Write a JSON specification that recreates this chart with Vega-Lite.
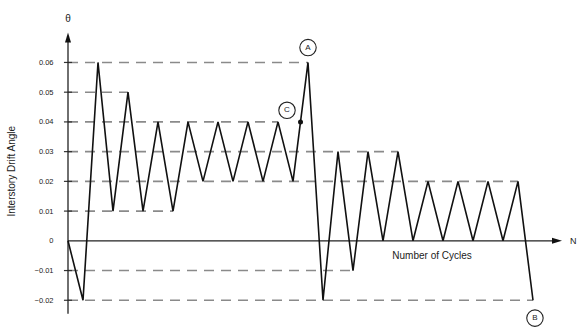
{
  "$schema": "https://vega.github.io/schema/vega-lite/v6.json",
  "width": 500,
  "height": 327,
  "autosize": {"type": "none"},
  "padding": {"left": 68, "top": 3, "right": 9, "bottom": 0},
  "background": "white",
  "config": {"view": {"stroke": null}, "font": "Liberation Sans"},
  "datasets": {
    "drift": [
      {"x": 0, "y": 0}, {"x": 1, "y": -0.02}, {"x": 2, "y": 0.06}, {"x": 3, "y": 0.01},
      {"x": 4, "y": 0.05}, {"x": 5, "y": 0.01}, {"x": 6, "y": 0.04}, {"x": 7, "y": 0.01},
      {"x": 8, "y": 0.04}, {"x": 9, "y": 0.02}, {"x": 10, "y": 0.04}, {"x": 11, "y": 0.02},
      {"x": 12, "y": 0.04}, {"x": 13, "y": 0.02}, {"x": 14, "y": 0.04}, {"x": 15, "y": 0.02},
      {"x": 16, "y": 0.06}, {"x": 17, "y": -0.02}, {"x": 18, "y": 0.03}, {"x": 19, "y": -0.01},
      {"x": 20, "y": 0.03}, {"x": 21, "y": 0}, {"x": 22, "y": 0.03}, {"x": 23, "y": 0},
      {"x": 24, "y": 0.02}, {"x": 25, "y": 0}, {"x": 26, "y": 0.02}, {"x": 27, "y": 0},
      {"x": 28, "y": 0.02}, {"x": 29, "y": 0}, {"x": 30, "y": 0.02}, {"x": 31, "y": -0.02}
    ],
    "levels": [
      {"x": 0, "x2": 16, "y": 0.06}, {"x": 0, "x2": 4, "y": 0.05}, {"x": 0, "x2": 14, "y": 0.04},
      {"x": 0, "x2": 22, "y": 0.03}, {"x": 0, "x2": 30, "y": 0.02}, {"x": 0, "x2": 7, "y": 0.01},
      {"x": 0, "x2": 19, "y": -0.01}, {"x": 0, "x2": 31, "y": -0.02}
    ],
    "ticks": [
      {"x": -0.27, "x2": 0.27, "y": 0.06}, {"x": -0.27, "x2": 0.27, "y": 0.05},
      {"x": -0.27, "x2": 0.27, "y": 0.04}, {"x": -0.27, "x2": 0.27, "y": 0.03},
      {"x": -0.27, "x2": 0.27, "y": 0.02}, {"x": -0.27, "x2": 0.27, "y": 0.01},
      {"x": -0.27, "x2": 0.27, "y": -0.01}, {"x": -0.27, "x2": 0.27, "y": -0.02}
    ],
    "axes": [
      {"x": 0, "x2": 0, "y": -0.0245, "y2": 0.068},
      {"x": 0, "x2": 32.3, "y": 0, "y2": 0}
    ],
    "arrowUp": [{"x": 0, "y": 0.0684}],
    "arrowRight": [{"x": 32.6, "y": 0}],
    "circles": [
      {"x": 16, "y": 0.065, "t": "A"},
      {"x": 14.6, "y": 0.0439, "t": "C"},
      {"x": 31.13, "y": -0.026, "t": "B"}
    ],
    "dot": [{"x": 15.5, "y": 0.04}],
    "labels": [
      {"x": 24.27, "y": -0.0052, "t": "Number of Cycles"},
      {"x": 0, "y": 0.0745, "t": "θ"}
    ],
    "nlabel": [{"x": 33.47, "y": 0, "t": "N"}],
    "ytitle": [{"x": -3.73, "y": 0.0234, "t": "Interstory Drift Angle"}]
  },
  "encoding": {
    "x": {"field": "x", "type": "quantitative", "scale": {"domain": [0, 33.333], "nice": false, "zero": false}, "axis": null},
    "y": {
      "field": "y", "type": "quantitative",
      "scale": {"domain": [-0.03, 0.08], "nice": false, "zero": false},
      "axis": {
        "values": [0.06, 0.05, 0.04, 0.03, 0.02, 0.01, 0, -0.01, -0.02],
        "labelExpr": "datum.value == 0 ? '0' : format(datum.value, '.2f')",
        "domain": false, "ticks": false, "grid": false, "title": null,
        "labelFontSize": 7.5, "labelColor": "#222", "labelPadding": 15, "labelFont": "Liberation Sans"
      }
    }
  },
  "layer": [
    {
      "data": {"name": "levels"},
      "mark": {"type": "rule", "color": "#8a8a8a", "strokeWidth": 1.6, "strokeDash": [10, 7]},
      "encoding": {"x2": {"field": "x2"}}
    },
    {
      "data": {"name": "ticks"},
      "mark": {"type": "rule", "color": "#333", "strokeWidth": 1.2},
      "encoding": {"x2": {"field": "x2"}}
    },
    {
      "data": {"name": "axes"},
      "mark": {"type": "rule", "color": "#222", "strokeWidth": 1.3},
      "encoding": {"x2": {"field": "x2"}, "y2": {"field": "y2"}}
    },
    {
      "data": {"name": "arrowUp"},
      "mark": {"type": "point", "shape": "M-0.6,1L0,-1L0.6,1Z", "filled": true, "color": "#111", "size": 100, "opacity": 1}
    },
    {
      "data": {"name": "arrowRight"},
      "mark": {"type": "point", "shape": "M-1,-0.6L1,0L-1,0.6Z", "filled": true, "color": "#111", "size": 100, "opacity": 1}
    },
    {
      "data": {"name": "drift"},
      "mark": {"type": "line", "color": "#111", "strokeWidth": 1.6}
    },
    {
      "data": {"name": "dot"},
      "mark": {"type": "point", "shape": "circle", "filled": true, "color": "#111", "size": 25, "opacity": 1}
    },
    {
      "data": {"name": "circles"},
      "mark": {"type": "point", "shape": "circle", "filled": false, "color": "#222", "strokeWidth": 1.1, "size": 270, "opacity": 1}
    },
    {
      "data": {"name": "circles"},
      "mark": {"type": "text", "fontSize": 8, "color": "#222", "align": "center", "baseline": "middle"},
      "encoding": {"text": {"field": "t"}}
    },
    {
      "data": {"name": "labels"},
      "mark": {"type": "text", "fontSize": 10, "color": "#222", "align": "center", "baseline": "middle"},
      "encoding": {"text": {"field": "t"}}
    },
    {
      "data": {"name": "nlabel"},
      "mark": {"type": "text", "fontSize": 9, "color": "#222", "align": "left", "baseline": "middle"},
      "encoding": {"text": {"field": "t"}}
    },
    {
      "data": {"name": "ytitle"},
      "mark": {"type": "text", "fontSize": 10, "color": "#222", "align": "center", "baseline": "middle", "angle": 270},
      "encoding": {"text": {"field": "t"}}
    }
  ]
}
